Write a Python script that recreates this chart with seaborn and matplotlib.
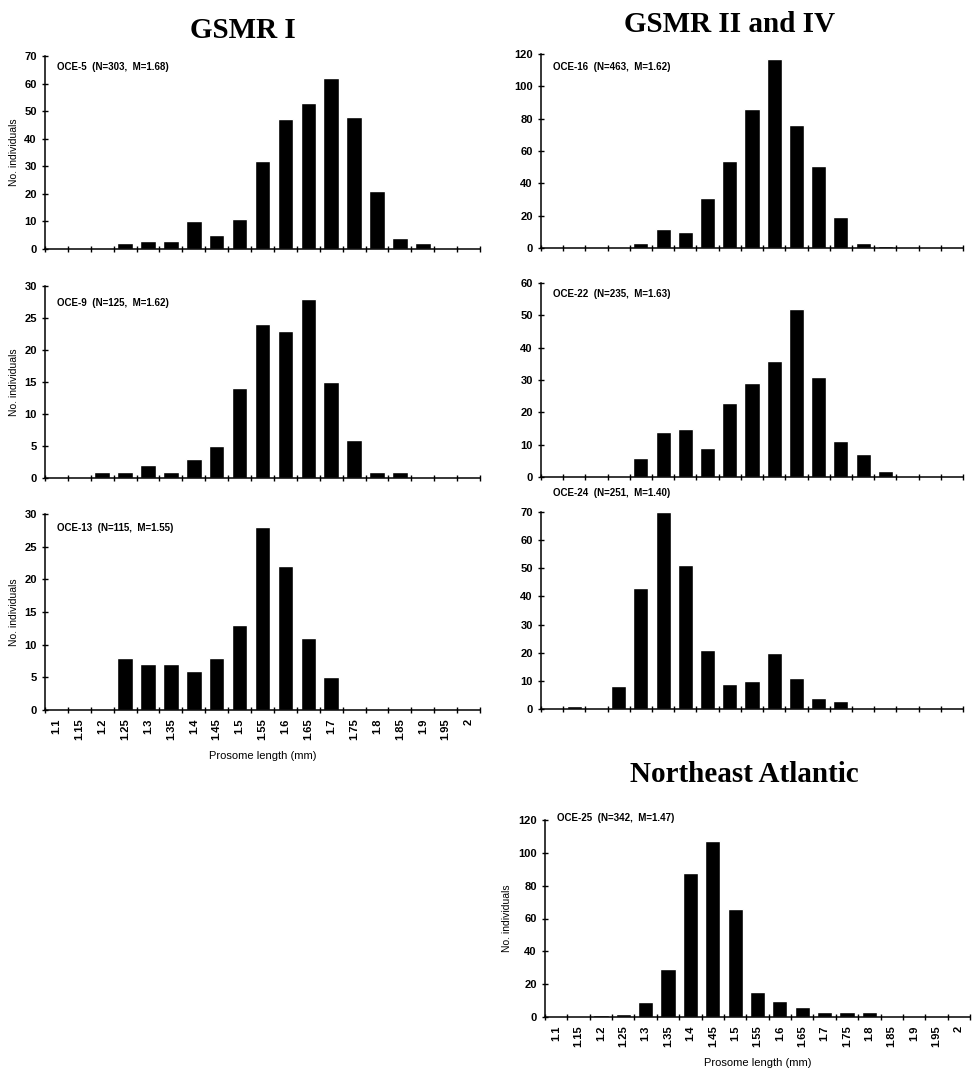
import numpy as np
import pandas as pd
import seaborn as sns
import matplotlib
matplotlib.use("Agg")
import matplotlib.pyplot as plt

# prosome length classes (mm)
lengths = ["1.1", "1.15", "1.2", "1.25", "1.3", "1.35", "1.4", "1.45", "1.5", "1.55",
           "1.6", "1.65", "1.7", "1.75", "1.8", "1.85", "1.9", "1.95", "2"]

# counts per length class
oce5 = [0, 0, 0, 2, 3, 3, 10, 5, 11, 32, 47, 53, 62, 48, 21, 4, 2, 0, 0]
oce9 = [0, 0, 1, 1, 2, 1, 3, 5, 14, 24, 23, 28, 15, 6, 1, 1, 0, 0, 0]
oce13 = [0, 0, 0, 8, 7, 7, 6, 8, 13, 28, 22, 11, 5, 0, 0, 0, 0, 0, 0]
oce16 = [0, 0, 0, 0, 3, 12, 10, 31, 54, 86, 117, 76, 51, 19, 3, 1, 0, 0, 0]
oce22 = [0, 0, 0, 0, 6, 14, 15, 9, 23, 29, 36, 52, 31, 11, 7, 2, 0, 0, 0]
oce24 = [0, 1, 0, 8, 43, 70, 51, 21, 9, 10, 20, 11, 4, 3, 0, 0, 0, 0, 0]
oce25 = [0, 0, 1, 2, 9, 29, 88, 107, 66, 15, 10, 6, 3, 3, 3, 0, 0, 0, 0]

labels = {
    "oce5": "OCE-5  (N=303,  M=1.68)",
    "oce9": "OCE-9  (N=125,  M=1.62)",
    "oce13": "OCE-13  (N=115,  M=1.55)",
    "oce16": "OCE-16  (N=463,  M=1.62)",
    "oce22": "OCE-22  (N=235,  M=1.63)",
    "oce24": "OCE-24  (N=251,  M=1.40)",
    "oce25": "OCE-25  (N=342,  M=1.47)",
}

sns.set_style("ticks")
plt.rcParams["font.family"] = ["Liberation Sans", "DejaVu Sans"]
for key in ["text.color", "axes.labelcolor", "xtick.color", "ytick.color", "axes.edgecolor"]:
    plt.rcParams[key] = "black"

W, H = 978, 1070
fig = plt.figure(figsize=(W / 100, H / 100), dpi=100)


def box(x0, x1, top, bottom):
    return fig.add_axes([x0 / W, 1 - bottom / H, (x1 - x0) / W, (bottom - top) / H])


def panel(ax, counts, text, ymax, ystep, text_y, show_x=False, ylabel=True):
    df = pd.DataFrame({"length": lengths, "count": counts})
    sns.barplot(data=df, x="length", y="count", order=lengths, color="black",
                saturation=1, width=0.68, ax=ax)
    ax.set_xlim(-0.5, len(lengths) - 0.5)
    ax.set_ylim(0, ymax)
    ax.set_yticks(np.arange(0, ymax + 1, ystep))
    ax.set_xticks(np.arange(-0.5, len(lengths), 1), minor=True)
    ax.tick_params(axis="x", which="major", length=0, pad=6)
    ax.tick_params(axis="x", which="minor", direction="inout", length=5, width=1)
    ax.tick_params(axis="y", direction="inout", length=5, width=1, labelsize=8)
    for lab in ax.get_yticklabels():
        lab.set_fontweight("bold")
    if show_x:
        ax.set_xticks(range(len(lengths)))
        ax.set_xticklabels(lengths, rotation=90, fontsize=8, fontweight="bold")
        ax.set_xlabel("Prosome length (mm)", fontsize=8, labelpad=8)
    else:
        ax.set_xticklabels([])
        ax.set_xlabel("")
    if ylabel:
        ax.set_ylabel("No. individuals", fontsize=7.5, labelpad=4)
    else:
        ax.set_ylabel("")
    for s in ["top", "right"]:
        ax.spines[s].set_visible(False)
    for s in ["left", "bottom"]:
        ax.spines[s].set_linewidth(1.1)
    ax.text(0.028, text_y, text, transform=ax.transAxes, fontsize=7,
            fontweight="bold", va="center", ha="left")


# left column: GSMR I
ax1 = box(45, 480, 56, 249)
panel(ax1, oce5, labels["oce5"], 70, 10, 0.945)
ax2 = box(45, 480, 286, 478)
panel(ax2, oce9, labels["oce9"], 30, 5, 0.91)
ax3 = box(45, 480, 514, 710)
panel(ax3, oce13, labels["oce13"], 30, 5, 0.93, show_x=True)

# right column: GSMR II and IV
ax4 = box(541, 963, 54, 248)
panel(ax4, oce16, labels["oce16"], 120, 20, 0.935, ylabel=False)
ax5 = box(541, 963, 283, 477)
panel(ax5, oce22, labels["oce22"], 60, 10, 0.943, ylabel=False)
ax6 = box(541, 963, 512, 709)
panel(ax6, oce24, labels["oce24"], 70, 10, 1.097, ylabel=False)

# Northeast Atlantic
ax7 = box(545, 970, 820, 1017)
panel(ax7, oce25, labels["oce25"], 120, 20, 1.01, show_x=True)

title_kw = dict(fontsize=21, fontweight="bold", family=["Liberation Serif", "DejaVu Serif"],
                ha="center", va="center")
fig.text(243 / W, 1 - 30 / H, "GSMR I", **title_kw)
fig.text(730 / W, 1 - 25 / H, "GSMR II and IV", **title_kw)
fig.text(744 / W, 1 - 774 / H, "Northeast Atlantic", **title_kw)

fig.savefig("out.png", dpi=100, facecolor="white")
